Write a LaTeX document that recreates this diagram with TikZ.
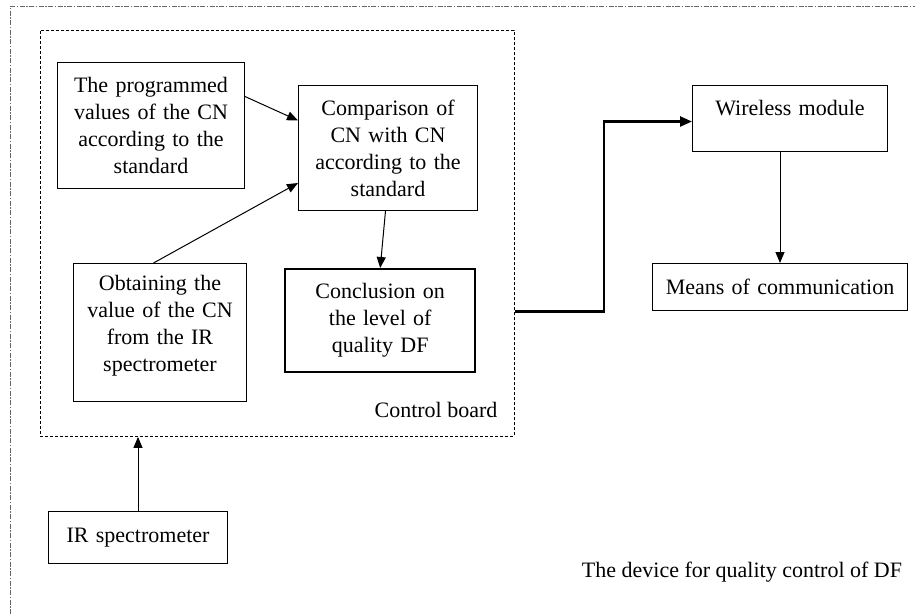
\documentclass[tikz,border=0pt]{standalone}
\usepackage{fontspec}
\setmainfont{Liberation Serif}
\usetikzlibrary{arrows.meta,positioning}

\begin{document}
\begin{tikzpicture}[x=1pt,y=-1pt,
        font=\fontsize{22}{27}\selectfont,
        box/.style={draw,line width=1pt,anchor=north west,inner xsep=4pt,align=center},
        boldbox/.style={box,line width=2.4pt},
        boardframe/.style={draw,dash pattern=on 3pt off 2pt,line width=0.9pt,anchor=north west,inner sep=0pt},
        conn/.style={-{Triangle[length=11pt,width=9pt]},line width=1pt},
        boldconn/.style={-{Triangle[length=12pt,width=10pt]},line width=2.4pt}]
            \useasboundingbox (0,0) rectangle (915,614);
            \draw[black!60,line width=0.8pt,dash pattern=on 5pt off 1.5pt on 1.5pt off 1.5pt] (10,614) -- (10,6) -- (915,6);
            \node [boardframe,minimum width=474pt,minimum height=406pt] (board) at (40,30) {};
            \node [box,minimum width=187pt,minimum height=126pt,text width=179pt] (prog) at (57,62)
                {The programmed\\ values of the CN\\ according to the\\ standard};
            \node [box,minimum width=179pt,minimum height=125pt,text width=171pt] (comp) at (298,85)
                {Comparison of\\ CN with CN\\ according to the\\ standard};
            \node [box,minimum width=173pt,minimum height=138pt,text width=165pt,text depth=100pt] (obt) at (73,263)
                {Obtaining the\\ value of the CN\\ from the IR\\ spectrometer};
            \node [boldbox,minimum width=190pt,minimum height=103pt,text width=182pt] (conc) at (284,268)
                {Conclusion on\\ the level of\\ quality DF};
            \node (boardlabel) at (436,410) {Control board};
            \node [box,minimum width=195pt,minimum height=66pt,text width=187pt,text depth=22pt] (wire) at (692,85)
                {Wireless module};
            \node [box,minimum width=255pt,minimum height=47pt,text width=247pt] (means) at (652,263)
                {Means of communication};
            \node [box,minimum width=179pt,minimum height=52pt,text width=171pt] (ir) at (48,511)
                {IR spectrometer};
            \node (devicelabel) at (742,572) {The device for quality control of DF};
            \draw [conn] ([yshift=29pt]prog.east) -- ([yshift=27.5pt]comp.west);
            \draw [conn] ([xshift=-6.5pt]obt.north) -- ([yshift=-35pt]comp.west);
            \draw [conn] ([xshift=-2.5pt]comp.south) -- (conc.north);
            \draw [conn] (ir.north) -- (ir.north |- board.south);
            \draw [boldconn] ([yshift=-78pt]board.east) -- ++(89,0) |- ([yshift=-3pt]wire.west);
            \draw [conn] (wire.south -| means.north) -- (means.north);
        \end{tikzpicture}
\end{document}
